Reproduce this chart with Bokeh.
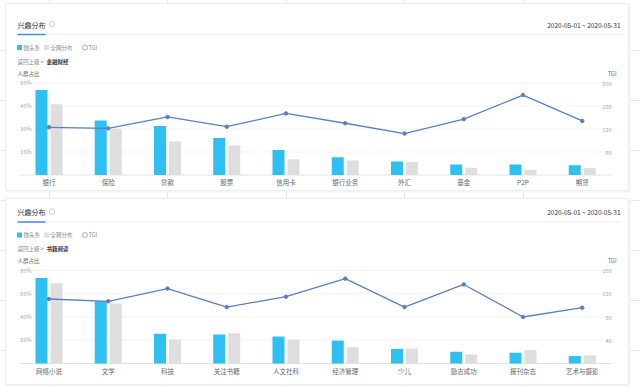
import numpy as np
from bokeh.plotting import figure
from bokeh.models import Range1d
from bokeh.core.properties import value
from bokeh.embed import file_html
from bokeh.resources import INLINE

# ---------------- data ----------------
panel_title = "兴趣分布"
date_range = "2020-05-01 ~ 2020-05-31"
legend_labels = ["微头条", "全网分布", "TGI"]
back_label = "返回上级"
left_axis_name = "人群占比"
right_axis_name = "TGI"

top_section = "金融财经"
top_categories = ["银行", "保险", "贷款", "股票", "信用卡", "银行业务", "外汇", "基金", "P2P", "期货"]
top_share = [55.4, 35.6, 31.9, 24.2, 16.3, 11.6, 8.8, 6.8, 6.8, 6.4]
top_all = [46.2, 30.1, 21.8, 19.3, 10.3, 9.5, 8.4, 4.8, 3.5, 4.6]
top_tgi = [123, 121, 141, 124, 147, 130, 112, 137, 179, 134]
top_left_ticks = [15, 30, 45, 60]
top_right_ticks = [80, 120, 160, 200]

bot_section = "书籍阅读"
bot_categories = ["网络小说", "文学", "科技", "关注书籍", "人文社科", "经济管理", "少儿", "励志成功", "报刊杂志", "艺术与摄影"]
bot_share = [73.6, 53.6, 25.5, 24.9, 23.2, 19.7, 12.5, 10.1, 9.3, 6.4]
bot_all = [69.0, 51.6, 20.6, 26.1, 20.6, 13.9, 12.8, 7.8, 11.6, 7.0]
bot_tgi = [111, 107, 129, 97, 115, 146, 97, 136, 80, 96]
bot_left_ticks = [20, 40, 60, 80]
bot_right_ticks = [40, 80, 120, 160]

# ---------------- layout ----------------
W, H = 640, 387
FONT = value("Noto Sans CJK SC")
BLUE = "#2ec0f2"
GRAY = "#dedede"
LINE = "#5a7fc6"
CAT0, CAT_STEP = 48.5, 59.25
BAR_W = 12 / CAT_STEP
BAR_OFF = 7.5 / CAT_STEP

x_start = -CAT0 / CAT_STEP
x_end = x_start + W / CAT_STEP

p = figure(width=W, height=H, x_range=Range1d(x_start, x_end), y_range=Range1d(H, 0),
           output_backend="svg", toolbar_location=None, min_border=0,
           x_axis_location=None, y_axis_location=None, outline_line_color=None)
p.background_fill_color = "white"
p.border_fill_color = "white"


def lin_range(p_zero, v_zero, p_ref, v_ref):
    k = (v_ref - v_zero) / (p_zero - p_ref)
    return Range1d(v_zero - (H - p_zero) * k, v_zero + p_zero * k)


p.extra_x_ranges = {"px": Range1d(0, W)}
p.extra_y_ranges = {
    "tp": lin_range(174.5, 0, 82.5, top_left_ticks[-1]),
    "tt": lin_range(174.5, top_right_ticks[0] - 40, 82.5, top_right_ticks[-1]),
    "bp": lin_range(363, 0, 270, bot_left_ticks[-1]),
    "bt": lin_range(363, 0, 270, bot_right_ticks[-1]),
}

# cards
p.quad(left=[6, 6], right=[630, 630], top=[4, 199], bottom=[192, 386],
       fill_color="#f5f5f5", line_color=None, x_range_name="px")
p.quad(left=[5, 5], right=[628, 628], top=[3, 198], bottom=[190, 384],
       fill_color="white", line_color="#eeeeee", x_range_name="px")


def txt(x, y, s, size, color, align="left", style="normal", yr="default"):
    kw = dict(x_range_name="px")
    if yr != "default":
        kw["y_range_name"] = yr
    p.text(x=x, y=y, text=s, text_font=FONT, text_font_size=value(f"{size}px"),
           text_color=color, text_align=align, text_baseline="middle",
           text_font_style=style, **kw)


def panel(oy, section, cats, share, allv, tgi, lt, rt, pr, tr, base_px):
    # header
    txt([17], [24 + oy], [panel_title], 7, "#333333")
    p.scatter(x=[51.5], y=[23.5 + oy], size=5.5, marker="circle", fill_color=None,
              line_color="#cccccc", x_range_name="px")
    p.segment(x0=[17], y0=[34 + oy], x1=[621], y1=[34 + oy], line_color="#eeeeee",
              line_width=1, x_range_name="px")
    p.segment(x0=[17], y0=[34 + oy], x1=[45], y1=[34 + oy], line_color="#3f8fe6",
              line_width=1.5, x_range_name="px")
    txt([620], [24 + oy], [date_range], 6.5, "#333333", align="right")
    # legend
    p.scatter(x=[19], y=[47 + oy], size=5, marker="square", fill_color=BLUE,
              line_color=None, x_range_name="px")
    txt([23], [47 + oy], [legend_labels[0]], 5.5, "#888888")
    p.scatter(x=[46], y=[47 + oy], size=5, marker="square", fill_color=GRAY,
              line_color=None, x_range_name="px")
    txt([50], [47 + oy], [legend_labels[1]], 5.5, "#888888")
    p.scatter(x=[84.5], y=[47 + oy], size=5, marker="circle", fill_color="white",
              line_color="#aaaaaa", x_range_name="px")
    txt([88], [47 + oy], [legend_labels[2]], 5.5, "#888888")
    # breadcrumb
    txt([17], [61 + oy], [back_label], 5.5, "#888888")
    txt([40], [61 + oy], [">"], 5.5, "#888888")
    txt([46], [61 + oy], [section], 5.5, "#333333", style="bold")
    txt([17], [73 + oy], [left_axis_name], 5.5, "#666666")
    txt([616], [73 + oy], [right_axis_name], 5.5, "#666666", align="right")

    n = len(cats)
    xs = np.arange(n)
    # grid
    p.segment(x0=[-0.5] * len(lt), x1=[n - 0.5] * len(lt), y0=lt, y1=lt,
              line_color="#f3f3f3", line_width=1, y_range_name=pr)
    p.segment(x0=[-0.5], x1=[n - 0.5], y0=[0], y1=[0], line_color="#e2e2e2",
              line_width=1, y_range_name=pr)
    # axis labels
    txt([31] * len(lt), lt, [f"{t}%" for t in lt], 5.5, "#aaaaaa", align="right", yr=pr)
    txt([611] * len(rt), rt, [str(t) for t in rt], 5.5, "#aaaaaa", align="right", yr=tr)
    p.text(x=xs, y=[base_px + 7] * n, text=cats, text_font=FONT,
           text_font_size=value("6.5px"), text_color="#666666", text_align="center",
           text_baseline="middle")
    # bars
    p.vbar(x=xs - BAR_OFF, top=share, bottom=0, width=BAR_W, fill_color=BLUE,
           line_color=None, y_range_name=pr)
    p.vbar(x=xs + BAR_OFF, top=allv, bottom=0, width=BAR_W, fill_color=GRAY,
           line_color=None, y_range_name=pr)
    p.line(x=xs, y=tgi, line_color=LINE, line_width=1.3, y_range_name=tr)
    p.scatter(x=xs, y=tgi, size=3.5, marker="circle", fill_color=LINE,
              line_color=LINE, y_range_name=tr)


panel(0, top_section, top_categories, top_share, top_all, top_tgi,
      top_left_ticks, top_right_ticks, "tp", "tt", 174.5)
panel(187.5, bot_section, bot_categories, bot_share, bot_all, bot_tgi,
      bot_left_ticks, bot_right_ticks, "bp", "bt", 363)

open("out.html", "w").write(file_html(p, INLINE))
